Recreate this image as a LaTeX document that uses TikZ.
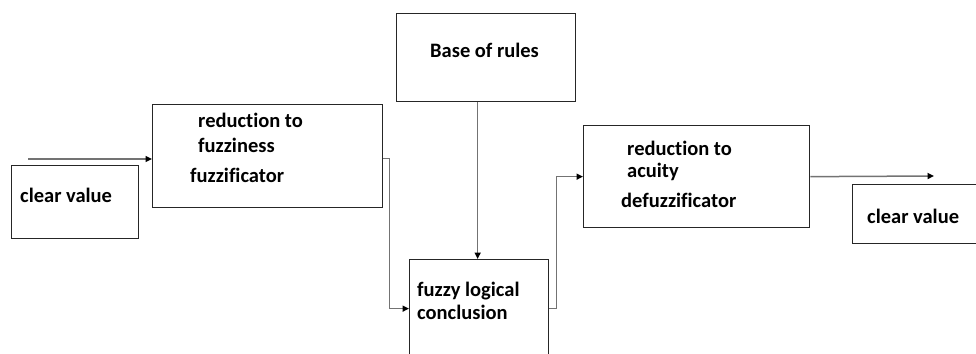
\documentclass[tikz,border=0pt]{standalone}
\usepackage{fontspec}
\setmainfont{Carlito}[Ligatures={NoCommon}]
\usetikzlibrary{arrows.meta}

\begin{document}
\begin{tikzpicture}[
  x=1pt, y=-1pt,
  box/.style={rectangle, draw=black!85, line width=1.3pt, inner sep=0pt, anchor=north west},
  txt/.style={font=\bfseries\fontsize{20.5}{23}\selectfont, anchor=base west, inner sep=0pt},
  arr/.style={-{Triangle[length=6.5pt, width=6pt, black]}, line width=1.5pt, black!55}
]
  \useasboundingbox (0,0) rectangle (976,353);

  % blocks
  \node[box, minimum width=127pt, minimum height=73pt] (inval) at (11,165) {};
  \node[box, minimum width=230pt, minimum height=103pt] (fuzz) at (152,104) {};
  \node[box, minimum width=179pt, minimum height=88pt] (rules) at (396,13) {};
  \node[box, minimum width=139pt, minimum height=110pt] (concl) at (409,259) {};
  \node[box, minimum width=226pt, minimum height=102pt] (defuzz) at (583,125) {};
  \node[box, minimum width=140pt, minimum height=59pt] (outval) at (852,184) {};

  % texts
  \node[txt] (inlbl) at (20,202) {clear value};
  \node[txt] (fuzzA) at (198,127) {reduction to};
  \node[txt] (fuzzB) at (198,152) {fuzziness};
  \node[txt] (fuzzC) at (190,182) {fuzzificator};
  \node[txt] (ruleslbl) at (430,58) {Base of rules};
  \node[txt] (conclA) at (417,296) {fuzzy logical};
  \node[txt] (conclB) at (417,319) {conclusion};
  \node[txt] (defuzzA) at (627,155) {reduction to};
  \node[txt] (defuzzB) at (627,177) {acuity};
  \node[txt] (defuzzC) at (621,207) {defuzzificator};
  \node[txt] (outlbl) at (867,223) {clear value};

  % connectors
  \coordinate (inA) at (28,159);
  \coordinate (outA) at (934,176);
  \draw[arr] (inA) -- (inA -| fuzz.west);
  \draw[arr] ([yshift=-2.5pt]fuzz.east) -- ++(6,0) |- ([yshift=6pt]concl.west);
  \draw[arr] ([xshift=-8.5pt]rules.south) -- ([xshift=-8.5pt]rules.south |- concl.north);
  \draw[arr] ([yshift=6pt]concl.east) -- ++(7,0) |- (defuzz.west);
  \draw[arr] (defuzz.east) -- (outA);
\end{tikzpicture}
\end{document}
